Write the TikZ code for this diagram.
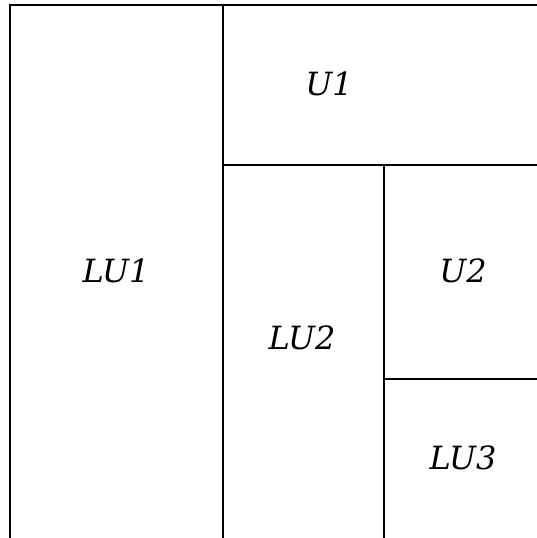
\documentclass[tikz,border=0pt]{standalone}
\usepackage{fontspec}
\setmainfont{DejaVu Serif}
\begin{document}
\begin{tikzpicture}[x=1pt,y=-1pt,
  wall/.style={line width=2.2pt,black},
  lbl/.style={font=\fontsize{32}{38}\selectfont\itshape,inner sep=0pt}]
\useasboundingbox (0,0) rectangle (537,538);
\draw[wall] (10,540) -- (10,5) -- (540,5);
\draw[wall] (223,5) -- (223,540);
\draw[wall] (223,165) -- (540,165);
\draw[wall] (384,165) -- (384,540);
\draw[wall] (384,379) -- (540,379);
\node[lbl] (lu1) at (116,271) {LU1};
\node[lbl] (u1) at (329,84) {U1};
\node[lbl] (lu2) at (302,338) {LU2};
\node[lbl] (u2) at (463,271) {U2};
\node[lbl] (lu3) at (463,458) {LU3};
\end{tikzpicture}
\end{document}
